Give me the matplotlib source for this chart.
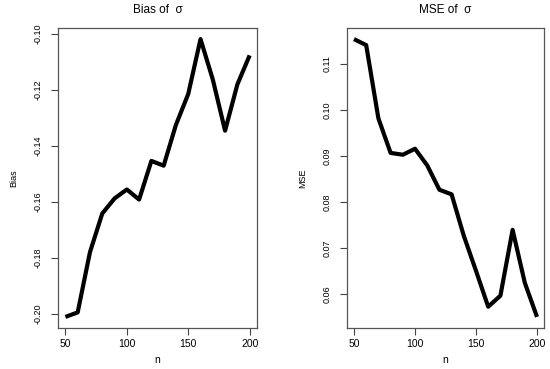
import matplotlib
matplotlib.use("Agg")
import matplotlib.pyplot as plt
from matplotlib import font_manager

n = [50, 60, 70, 80, 90, 100, 110, 120, 130, 140, 150, 160, 170, 180, 190, 200]
bias = [-0.2012, -0.1996, -0.1781, -0.1643, -0.1589, -0.1557, -0.1593, -0.1455,
        -0.1472, -0.1326, -0.1216, -0.1020, -0.1164, -0.1347, -0.1182, -0.1078]
mse = [0.1154, 0.1141, 0.0982, 0.0907, 0.0903, 0.0916, 0.0880, 0.0827,
       0.0817, 0.0727, 0.0651, 0.0573, 0.0597, 0.0740, 0.0625, 0.0551]
bias_ticks = [-0.20, -0.18, -0.16, -0.14, -0.12, -0.10]
mse_ticks = [0.06, 0.07, 0.08, 0.09, 0.10, 0.11]
x_ticks = [50, 100, 150, 200]

names = {f.name for f in font_manager.fontManager.ttflist}
narrow = "Liberation Sans Narrow" if "Liberation Sans Narrow" in names else "Liberation Sans"
ysize = 7.5 if narrow == "Liberation Sans Narrow" else 6.5
plt.rcParams['font.family'] = ['Liberation Sans', 'DejaVu Sans']

fig = plt.figure(figsize=(5.5, 3.69), dpi=100)
ax1 = fig.add_axes([0.1055, 0.1111, 0.3618, 0.813])
ax2 = fig.add_axes([0.6303, 0.1111, 0.3594, 0.813])

def rng(v):
    lo, hi = min(v), max(v)
    d = (hi - lo) * 0.04
    return lo - d, hi + d

panels = [(ax1, bias, bias_ticks, "Bias", "Bias of  σ", "%.2f"),
          (ax2, mse, mse_ticks, "MSE", "MSE of  σ", "%.2f")]
for ax, y, yt, yl, title, fmt in panels:
    ax.plot(n, y, color="black", lw=3.0, solid_joinstyle="round", solid_capstyle="butt")
    ax.set_xlim(*rng(n))
    ax.set_ylim(*rng(y))
    ax.set_xticks(x_ticks)
    ax.set_xticklabels([str(t) for t in x_ticks], fontsize=7.5)
    ax.set_yticks(yt)
    ax.set_yticklabels([fmt % t for t in yt], fontsize=ysize, family=narrow,
                       rotation=90, va="center")
    ax.tick_params(direction="out", length=5, width=0.8, color="#444444")
    ax.tick_params(axis="x", pad=3)
    ax.tick_params(axis="y", pad=6)
    for s in ax.spines.values():
        s.set_color("#555555")
        s.set_linewidth(0.9)
    ax.set_xlabel("n", fontsize=7.5, labelpad=4)
    ax.set_ylabel(yl, fontsize=ysize, family=narrow, labelpad=11)
    ax.set_title(title, fontsize=8.5, pad=11)

fig.savefig("out.png", dpi=100)
